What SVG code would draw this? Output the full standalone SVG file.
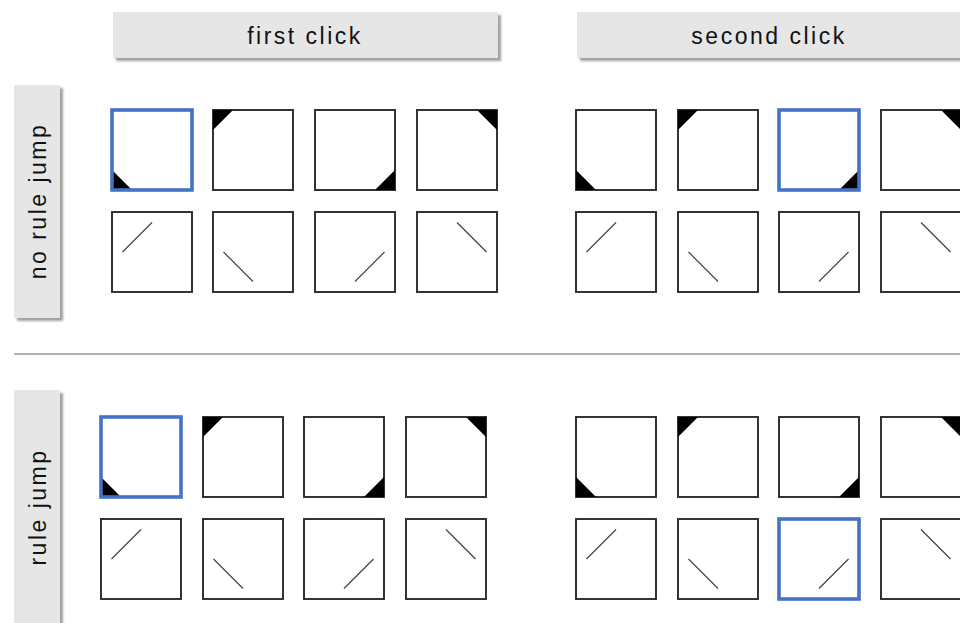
<svg xmlns="http://www.w3.org/2000/svg" xmlns:xlink="http://www.w3.org/1999/xlink" width="960" height="623" viewBox="0 0 960 623">
<style>
.hdr{fill:#e6e6e6}
.shd{fill:#a0a0a0}
.lbl{font-family:"Liberation Sans",Arial,sans-serif;font-size:23px;letter-spacing:2.5px;fill:#111;text-anchor:middle}
.box{fill:#fff;stroke:#2a2a2a;stroke-width:1.9}
.sel{fill:none;stroke:#4472c4;stroke-width:3.6}
.tri{fill:#000}
.ln{stroke:#444;stroke-width:1.2;fill:none}
.div{stroke:#999;stroke-width:1.5}
</style>
<defs>
<filter id="blur" x="-5%" y="-5%" width="110%" height="110%"><feGaussianBlur stdDeviation="0.8"/></filter>
<path id="bl" class="tri" d="M0,60 L0,80 L20,80 Z"/>
<path id="tl" class="tri" d="M0,0 L20,0 L0,20 Z"/>
<path id="br" class="tri" d="M80,60 L80,80 L60,80 Z"/>
<path id="tr" class="tri" d="M60,0 L80,0 L80,20 Z"/>
<path id="l1" class="ln" d="M10.5,40 L40,10.5"/>
<path id="l2" class="ln" d="M10.5,40 L40,69.5"/>
<path id="l3" class="ln" d="M40,69.5 L69.5,40"/>
<path id="l4" class="ln" d="M40,10.5 L69.5,40"/>
<rect id="b" class="box" x="0" y="0" width="80" height="80"/>
<rect id="s" class="sel" x="0" y="0" width="80" height="80"/>
</defs>
<rect width="960" height="623" fill="#fff"/>

<g id="header-first-click">
<rect class="shd" x="116" y="15" width="385" height="46" filter="url(#blur)"/>
<rect class="hdr" x="113" y="12" width="385" height="46"/>
<text class="lbl" x="305" y="44">first click</text>
</g>
<g id="header-second-click">
<rect class="shd" x="580" y="15" width="385" height="46" filter="url(#blur)"/>
<rect class="hdr" x="577" y="12" width="385" height="46"/>
<text class="lbl" x="769" y="44">second click</text>
</g>
<g id="label-no-rule-jump">
<rect class="shd" x="17" y="88" width="46" height="233" filter="url(#blur)"/>
<rect class="hdr" x="14" y="85" width="46" height="233"/>
<text class="lbl" transform="translate(46,201) rotate(-90)" x="0" y="0">no rule jump</text>
</g>
<g id="label-rule-jump">
<rect class="shd" x="17" y="393" width="46" height="240" filter="url(#blur)"/>
<rect class="hdr" x="14" y="390" width="46" height="240"/>
<text class="lbl" transform="translate(46,507) rotate(-90)" x="0" y="0">rule jump</text>
</g>

<line id="divider" class="div" x1="14" y1="354" x2="960" y2="354"/>

<!-- top section, first click -->
<g id="t1-r1-c1" transform="translate(112,110)"><use href="#b"/><use href="#bl"/><use href="#s"/></g>
<g id="t1-r1-c2" transform="translate(213,110)"><use href="#b"/><use href="#tl"/></g>
<g id="t1-r1-c3" transform="translate(315,110)"><use href="#b"/><use href="#br"/></g>
<g id="t1-r1-c4" transform="translate(417,110)"><use href="#b"/><use href="#tr"/></g>
<g id="t1-r2-c1" transform="translate(112,212)"><use href="#b"/><use href="#l1"/></g>
<g id="t1-r2-c2" transform="translate(213,212)"><use href="#b"/><use href="#l2"/></g>
<g id="t1-r2-c3" transform="translate(315,212)"><use href="#b"/><use href="#l3"/></g>
<g id="t1-r2-c4" transform="translate(417,212)"><use href="#b"/><use href="#l4"/></g>

<!-- top section, second click -->
<g id="t2-r1-c1" transform="translate(576,110)"><use href="#b"/><use href="#bl"/></g>
<g id="t2-r1-c2" transform="translate(678,110)"><use href="#b"/><use href="#tl"/></g>
<g id="t2-r1-c3" transform="translate(779,110)"><use href="#b"/><use href="#br"/><use href="#s"/></g>
<g id="t2-r1-c4" transform="translate(881,110)"><use href="#b"/><use href="#tr"/></g>
<g id="t2-r2-c1" transform="translate(576,212)"><use href="#b"/><use href="#l1"/></g>
<g id="t2-r2-c2" transform="translate(678,212)"><use href="#b"/><use href="#l2"/></g>
<g id="t2-r2-c3" transform="translate(779,212)"><use href="#b"/><use href="#l3"/></g>
<g id="t2-r2-c4" transform="translate(881,212)"><use href="#b"/><use href="#l4"/></g>

<!-- bottom section, first click -->
<g id="b1-r1-c1" transform="translate(101,417)"><use href="#b"/><use href="#bl"/><use href="#s"/></g>
<g id="b1-r1-c2" transform="translate(203,417)"><use href="#b"/><use href="#tl"/></g>
<g id="b1-r1-c3" transform="translate(304,417)"><use href="#b"/><use href="#br"/></g>
<g id="b1-r1-c4" transform="translate(406,417)"><use href="#b"/><use href="#tr"/></g>
<g id="b1-r2-c1" transform="translate(101,519)"><use href="#b"/><use href="#l1"/></g>
<g id="b1-r2-c2" transform="translate(203,519)"><use href="#b"/><use href="#l2"/></g>
<g id="b1-r2-c3" transform="translate(304,519)"><use href="#b"/><use href="#l3"/></g>
<g id="b1-r2-c4" transform="translate(406,519)"><use href="#b"/><use href="#l4"/></g>

<!-- bottom section, second click -->
<g id="b2-r1-c1" transform="translate(576,417)"><use href="#b"/><use href="#bl"/></g>
<g id="b2-r1-c2" transform="translate(678,417)"><use href="#b"/><use href="#tl"/></g>
<g id="b2-r1-c3" transform="translate(779,417)"><use href="#b"/><use href="#br"/></g>
<g id="b2-r1-c4" transform="translate(881,417)"><use href="#b"/><use href="#tr"/></g>
<g id="b2-r2-c1" transform="translate(576,519)"><use href="#b"/><use href="#l1"/></g>
<g id="b2-r2-c2" transform="translate(678,519)"><use href="#b"/><use href="#l2"/></g>
<g id="b2-r2-c3" transform="translate(779,519)"><use href="#b"/><use href="#l3"/><use href="#s"/></g>
<g id="b2-r2-c4" transform="translate(881,519)"><use href="#b"/><use href="#l4"/></g>

<g id="connectors"/>
</svg>
